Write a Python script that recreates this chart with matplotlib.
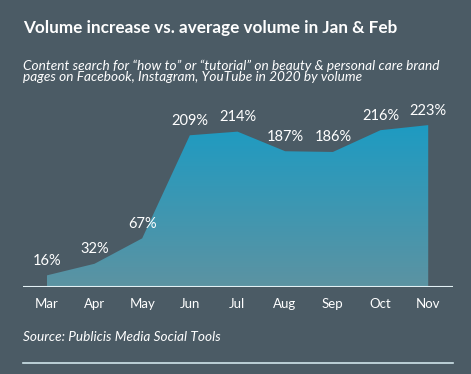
import numpy as np
import matplotlib.pyplot as plt
from matplotlib.colors import LinearSegmentedColormap

months = ['Mar', 'Apr', 'May', 'Jun', 'Jul', 'Aug', 'Sep', 'Oct', 'Nov']
values = [16, 32, 67, 209, 214, 187, 186, 216, 223]
labels = ['16%', '32%', '67%', '209%', '214%', '187%', '186%', '216%', '223%']

bg = '#4b5b65'
W, H = 471, 374

plt.rcParams['font.family'] = ['Lato', 'DejaVu Sans']

fig = plt.figure(figsize=(W / 100, H / 100), dpi=100, facecolor=bg)

# axes box in pixel terms
left, right, bottom, top = 23, 453, 287, 105.5
ax = fig.add_axes([left / W, (H - bottom) / H, (right - left) / W, (bottom - top) / H])
ax.set_facecolor(bg)
ax.set_xlim(-0.5, 8.52)
ax.set_ylim(0, 250)
for s in ax.spines.values():
    s.set_visible(False)
ax.set_xticks([])
ax.set_yticks([])

x = np.arange(len(months))

# gradient fill clipped to the area
cmap = LinearSegmentedColormap.from_list('g', ['#5c93a2', '#1e9bc2'])
grad = np.linspace(0, 1, 256).reshape(-1, 1)
poly = ax.fill_between(x, values, 0, color='none', lw=0)
img = ax.imshow(grad, cmap=cmap, origin='lower', aspect='auto',
                extent=[x[0], x[-1], 0, max(values)], zorder=1)
path = poly.get_paths()[0]
img.set_clip_path(path, transform=ax.transData)

for xi, v, lab in zip(x, values, labels):
    ax.text(xi, v + 20, lab, ha='center', va='center', color='white', fontsize=10.5)

ax.axhline(0, color='#e3f1f5', lw=1.5, zorder=3)

for xi, m in zip(x, months):
    fig.text((left + 24 + xi * 47.6) / W, 1 - 304 / H, m, ha='center', va='center',
             color='white', fontsize=9.5)

fig.text(23 / W, 1 - 28 / H, 'Volume increase vs. average volume in Jan & Feb',
         ha='left', va='center', color='white', fontsize=12.3, fontweight='bold')
fig.text(23 / W, 1 - 71 / H,
         'Content search for \u201chow to\u201d or \u201ctutorial\u201d on beauty & personal care brand\n'
         'pages on Facebook, Instagram, YouTube in 2020 by volume',
         ha='left', va='center', color='white', fontsize=9.8, style='italic', linespacing=0.9)
fig.text(23 / W, 1 - 337 / H, 'Source: Publicis Media Social Tools',
         ha='left', va='center', color='white', fontsize=9.8, style='italic')

fig.add_artist(plt.Line2D([23 / W, 453 / W], [1 - 363 / H, 1 - 363 / H],
                          color='#cfe3ea', lw=1.2))

fig.savefig('out.png', dpi=100, facecolor=bg)
